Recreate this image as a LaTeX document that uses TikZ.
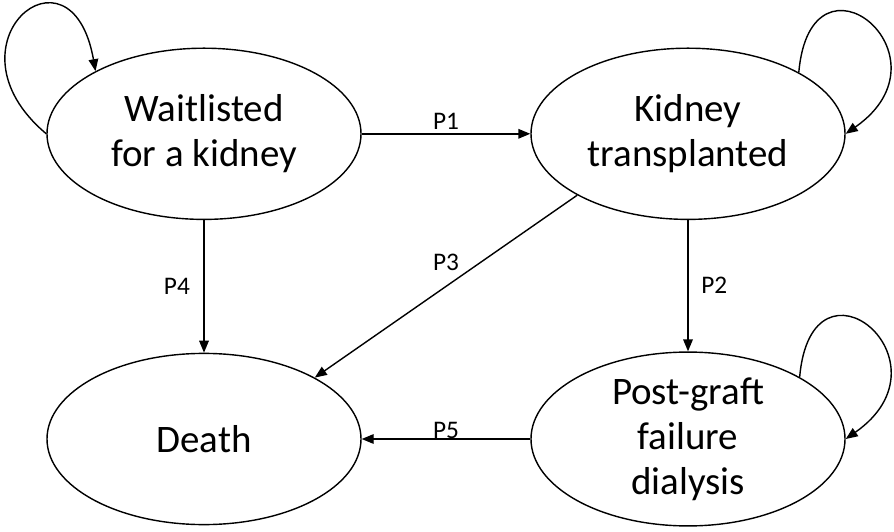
\documentclass[tikz,border=0pt]{standalone}
\usepackage{fontspec}
\setmainfont{Carlito}
\usepackage{tikz}
\usetikzlibrary{shapes.geometric}
\usetikzlibrary{arrows.meta}

\begin{document}
\begin{tikzpicture}[
  state/.style={draw, ellipse, line width=1pt, minimum width=7.85cm, minimum height=4.28cm, inner sep=0pt, align=center, font=\fontsize{27.7}{32}\selectfont},
  lbl/.style={font=\fontsize{18}{20}\selectfont, inner sep=1pt},
  trans/.style={-{Triangle[length=3mm, width=2.4mm]}, line width=1pt}]
\useasboundingbox (0,0) rectangle (22.35,13.275);

% --- states
\node[state] (W) at (5.1,9.93) {Waitlisted\\for a kidney};
\node[state] (K) at (17.2,9.93) {Kidney\\transplanted};
\node[state] (D) at (5.1,2.3) {Death};
\node[state] (P) at (17.2,2.3) {Post-graft\\failure\\dialysis};

% --- self loops
\draw[trans] (W.180) to[out=140, in=100, distance=3.5cm] (W.150);
\draw[trans] (K.29) to[out=85, in=35, distance=3.4cm] (K.0);
\draw[trans] (P.29) to[out=85, in=35, distance=3.4cm] (P.0);

% --- transitions
\draw[trans] (W.east) -- node[lbl, midway, above=0.05cm] {P1} (K.west);
\draw[trans] (K.south) -- node[lbl, midway, right=0.28cm] {P2} (P.north);
\draw[trans] (K.209) -- node[lbl, midway, above=0.35cm] {P3} (D.29);
\draw[trans] (W.south) -- node[lbl, midway, left=0.3cm] {P4} (D.north);
\draw[trans] (P.west) -- node[lbl, midway, above, inner sep=0pt] {P5} (D.east);

\end{tikzpicture}
\end{document}
